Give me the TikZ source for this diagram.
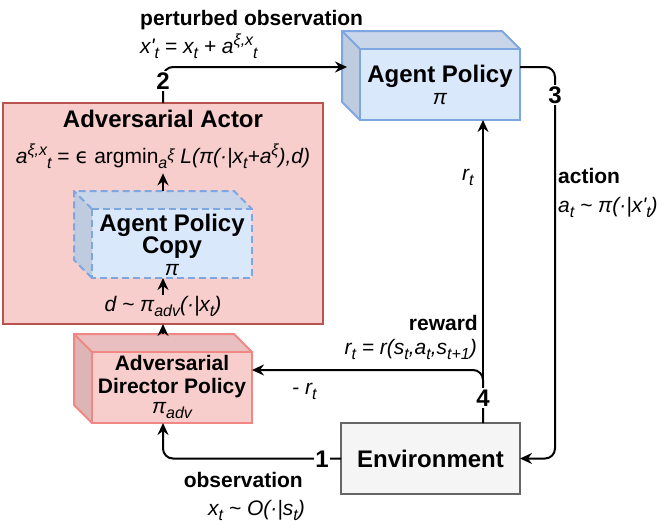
\documentclass[tikz,border=0pt]{standalone}
\usepackage{fontspec}
\setmainfont{Liberation Sans}
\newfontfamily\dejavu{DejaVu Sans}
\usetikzlibrary{arrows.meta,calc}
\definecolor{bluefill}{HTML}{DAE8FC}
\definecolor{bluestroke}{HTML}{7EA6E0}
\definecolor{bluetop}{HTML}{C9D6EA}
\definecolor{blueleft}{HTML}{BFCBDE}
\definecolor{redfill}{HTML}{F8CECC}
\definecolor{redstroke}{HTML}{F08784}
\definecolor{redtop}{HTML}{E9C0BF}
\definecolor{redleft}{HTML}{DDB5B4}
\definecolor{actorstroke}{HTML}{B85450}
\definecolor{envfill}{HTML}{F5F5F5}
\definecolor{envstroke}{HTML}{666666}
\newcommand\sbs[1]{\raisebox{-5pt}{\fontsize{16}{16}\selectfont #1}}
\newcommand\sps[1]{\raisebox{8pt}{\fontsize{16}{16}\selectfont #1}}
\newcommand\drawcube[5]{%
  \fill[#3] (#1.north west) -- ++(-#2,-#2) -- ($(#1.north east)+(-#2,-#2)$) -- (#1.north east) -- cycle;
  \fill[#4] (#1.north west) -- ++(-#2,-#2) -- ($(#1.south west)+(-#2,-#2)$) -- (#1.south west) -- cycle;
  \draw[#5] (#1.south west) -- ++(-#2,-#2) -- ($(#1.north west)+(-#2,-#2)$) -- ($(#1.north east)+(-#2,-#2)$) -- (#1.north east);
  \draw[#5] (#1.north west) -- ++(-#2,-#2);
  \draw[#5] (#1.north west) rectangle (#1.south east);
}
\tikzset{
  face/.style={inner sep=0, outer sep=0},
  ttl/.style={inner sep=0, font=\fontsize{24}{24}\selectfont\bfseries},
  sttl/.style={inner sep=0, font=\fontsize{21}{21}\selectfont\bfseries},
  lbl/.style={inner sep=0, font=\fontsize{21}{21}\selectfont\itshape},
  blbl/.style={inner sep=0, font=\fontsize{21}{21}\selectfont\bfseries},
  num/.style={fill=white, inner sep=1.5pt, font=\fontsize{24}{24}\selectfont\bfseries},
  arr/.style={draw=black, line width=2pt, rounded corners=10pt,
    -{Stealth[length=12pt,width=11pt,inset=4pt]}},
}
\begin{document}
\begin{tikzpicture}[x=1pt,y=-1pt]
\useasboundingbox (0,0) rectangle (665,531);
% Adversarial actor box
\node[face, draw=actorstroke, fill=redfill, line width=2pt,
  minimum width=320pt, minimum height=221pt] (actor) at (163,213.5) {};
\node[ttl, anchor=base] (actort) at (163,127) {Adversarial Actor};
\node[lbl, anchor=base] (form) at (163,163)
  {a\sps{ξ,x}\sbs{t} {\upshape = {\dejavu ϵ} argmin}\sbs{a\sps{ξ}} L(π(·|x\sbs{t}+a\sps{ξ}),d)};
\node[lbl, anchor=base] (dtext) at (163,311) {d \textasciitilde{} π\sbs{adv}(·|x\sbs{t})};
% Agent policy copy cube
\node[face, fill=bluefill, minimum width=160pt, minimum height=69pt] (cp) at (172,243.5) {};
\drawcube{cp}{18}{bluetop}{blueleft}{bluestroke, line width=2pt, dash pattern=on 7pt off 4pt}
\node[ttl, anchor=base] (cpt1) at (172,231) {Agent Policy};
\node[ttl, anchor=base] (cpt2) at (172,253) {Copy};
\node[lbl, anchor=base] (cpt3) at (172,275) {π};
% Agent policy cube
\node[face, fill=bluefill, minimum width=160pt, minimum height=71pt] (ap) at (440,84.5) {};
\drawcube{ap}{18}{bluetop}{blueleft}{bluestroke, line width=2pt}
\node[ttl, anchor=base] (apt1) at (440,82) {Agent Policy};
\node[lbl, anchor=base] (apt2) at (440,104) {π};
% Director cube
\node[face, fill=redfill, minimum width=160pt, minimum height=71pt] (dir) at (172,387.5) {};
\drawcube{dir}{18}{redtop}{redleft}{redstroke, line width=2pt}
\node[sttl, anchor=base] (dirt1) at (172,370) {Adversarial};
\node[sttl, anchor=base] (dirt2) at (172,393) {Director Policy};
\node[lbl, anchor=base] (dirt3) at (172,413) {π\sbs{adv}};
% Environment
\node[face, draw=envstroke, fill=envfill, line width=2pt, minimum width=179pt,
  minimum height=71pt, font=\fontsize{24}{24}\selectfont\bfseries] (env) at (430.5,458.5) {Environment};
% coordinates on shapes
\coordinate (apin) at ($(ap.north west)+(-13,18)$);
\coordinate (apout) at ($(ap.north east)+(0,18)$);
\coordinate (dirbot) at ($(dir.south)+(-9,0)$);
\coordinate (dirtop) at ($(dir.north)+(-9,-18)$);
\coordinate (dirin) at ($(dir.north east)+(0,18)$);
\coordinate (envtop) at ($(env.north east)+(-37,0)$);
\coordinate (cptop) at ($(cp.north)+(-9,-18)$);
\coordinate (cpbot) at ($(cp.south)+(-9,0)$);
% connectors
\draw[arr] (actor.north) |- (apin);
\draw[arr] (apout) -| ([xshift=35pt]env.east) -- (env.east);
\draw[arr] (env.west) -| (dirbot);
\draw[arr] (envtop) -- (envtop |- ap.south);
\draw[arr] (envtop) |- (dirin);
\draw[arr] (cptop) -- ($(cptop |- form.south)+(0,5)$);
\draw[arr] ($(dtext.north)+(0,-1)$) -- (cpbot);
\draw[arr] (dirtop) -- (actor.south);
% step numbers
\node[num] (n2) at (163,81) {2};
\node[num] (n3) at (555,95) {3};
\node[num] (n4) at (483,398) {4};
\node[num] (n1) at (322,459) {1};
% labels
\node[blbl, anchor=base west] (l2a) at (140,25) {perturbed observation};
\node[lbl, anchor=base west] (l2b) at (140,53) {x\textquotesingle\sbs{t} = x\sbs{t} + a\sps{ξ,x}\sbs{t}};
\node[blbl, anchor=base west] (l3a) at (558,183) {action};
\node[lbl, anchor=base west] (l3b) at (558,212) {a\sbs{t} \textasciitilde{} π(·|x\textquotesingle\sbs{t})};
\node[blbl, anchor=base east] (l4a) at (478,330) {reward};
\node[lbl, anchor=base east] (l4b) at (477,354) {r\sbs{t} = r(s\sbs{t},a\sbs{t},s\sbs{t+1})};
\node[lbl, anchor=base west] (l4c) at (292,394) {- r\sbs{t}};
\node[lbl, anchor=base west] (l4d) at (462,180) {r\sbs{t}};
\node[blbl, anchor=base east] (l1a) at (303,487) {observation};
\node[lbl, anchor=base east] (l1b) at (305,515) {x\sbs{t} \textasciitilde{} O(·|s\sbs{t})};
\end{tikzpicture}
\end{document}
